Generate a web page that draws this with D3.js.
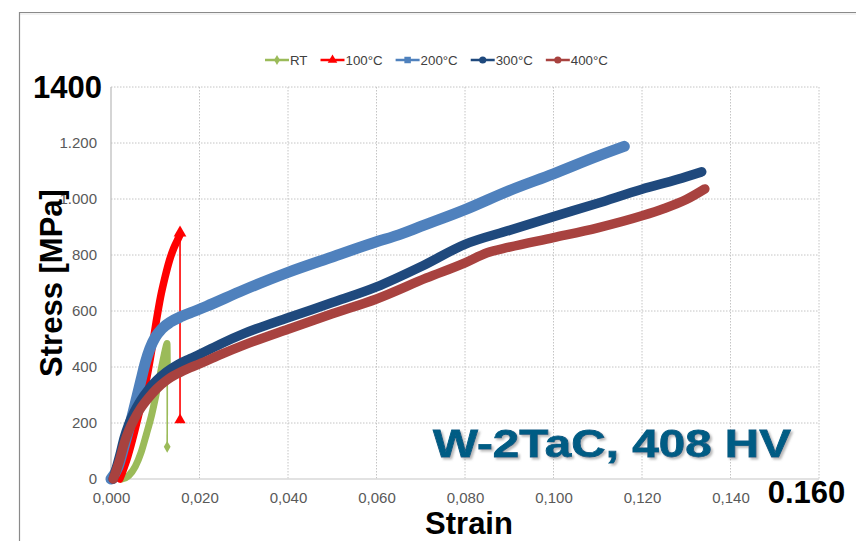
<!DOCTYPE html>
<html>
<head>
<meta charset="utf-8">
<script src="https://cdn.jsdelivr.net/npm/d3@7"></script>
<style>
  html, body { margin: 0; padding: 0; background: #fff; }
  svg { display: block; font-family: "Liberation Sans", Arial, Helvetica, sans-serif; }
</style>
</head>
<body>
<svg id="chart" width="856" height="541"></svg>
<script>
// Tensile curves of W-2TaC at different test temperatures: [strain, stress in MPa]
const seriesNames = ["RT", "100°C", "200°C", "300°C", "400°C"];
const seriesColors = ["#9BBB59", "#FF0000", "#4F81BD", "#1F497D", "#A8423F"];
const seriesMarkers = ["diamond", "triangle", "square", "circle", "circle"];

const curveRT = [
  [0.0025, 0], [0.0040, 12], [0.0055, 45], [0.0068, 95], [0.0080, 160], [0.0092, 230],
  [0.0103, 310], [0.0112, 380], [0.0119, 435], [0.0124, 470], [0.01265, 484],
  [0.0127, 440], [0.01272, 385]
];
const curve100 = [
  [0.0020, 0], [0.0038, 80], [0.0055, 180], [0.0070, 280], [0.0082, 370], [0.0092, 460],
  [0.0102, 560], [0.0112, 650], [0.0122, 720], [0.0132, 780], [0.0142, 825],
  [0.0150, 852], [0.0156, 872]
];
const curve200 = [
  [0.0000, 0], [0.0015, 40], [0.0030, 120], [0.0043, 195], [0.0058, 290], [0.0068, 355],
  [0.0078, 418], [0.0088, 466], [0.0100, 506], [0.0115, 537], [0.0135, 561],
  [0.0160, 581], [0.0190, 600], [0.0216, 617], [0.0300, 675], [0.0400, 738],
  [0.0500, 793], [0.0600, 847], [0.0650, 872], [0.0700, 902], [0.0800, 962],
  [0.0900, 1030], [0.1000, 1090], [0.1100, 1153], [0.1160, 1188]
];
const curve300 = [
  [0.0005, 0], [0.0020, 85], [0.0030, 148], [0.0040, 195], [0.0052, 238], [0.0066, 278],
  [0.0085, 320], [0.0103, 352], [0.0125, 382], [0.0150, 408], [0.0179, 430],
  [0.0200, 445], [0.0250, 484], [0.0300, 519], [0.0400, 576], [0.0500, 630],
  [0.0600, 686], [0.0700, 758], [0.0800, 838], [0.0900, 888], [0.1000, 937],
  [0.1100, 985], [0.1200, 1035], [0.1280, 1070], [0.1335, 1097]
];
const curve400 = [
  [0.0005, 0], [0.0020, 70], [0.0030, 128], [0.0040, 172], [0.0052, 212], [0.0066, 250],
  [0.0085, 290], [0.0103, 322], [0.0125, 352], [0.0150, 376], [0.0179, 398],
  [0.0200, 411], [0.0250, 446], [0.0300, 478], [0.0400, 535], [0.0500, 590],
  [0.0600, 643], [0.0713, 718], [0.0800, 772], [0.0850, 808], [0.0900, 828],
  [0.1000, 862], [0.1100, 897], [0.1200, 940], [0.1250, 966], [0.1300, 998], [0.1342, 1036]
];
const curves = [curveRT, curve100, curve200, curve300, curve400];

// Final unloading points after fracture (sparse, thin connector)
const fractureRT = [0.0127, 115];
const fracture100 = [0.0156, 211];

const xTicks = [0, 0.02, 0.04, 0.06, 0.08, 0.10, 0.12, 0.14, 0.16];
const yTicks = [0, 200, 400, 600, 800, 1000, 1200, 1400];
const xTickLabels = ["0,000", "0,020", "0,040", "0,060", "0,080", "0,100", "0,120", "0,140", "0.160"];
const yTickLabels = ["0", "200", "400", "600", "800", "1.000", "1.200", "1400"];

const svg = d3.select("#chart");
const plot = { left: 111, right: 819, top: 87, bottom: 479 };

const x = d3.scaleLinear().domain([0, 0.16]).range([plot.left, plot.right]);
const y = d3.scaleLinear().domain([0, 1400]).range([plot.bottom, plot.top]);

// outer frame (top and left edge)
svg.append("line").attr("x1", 20).attr("x2", 856).attr("y1", 12.5).attr("y2", 12.5)
  .attr("stroke", "#8a8a8a").attr("stroke-width", 1.2);
svg.append("line").attr("x1", 20).attr("x2", 856).attr("y1", 14).attr("y2", 14)
  .attr("stroke", "#e6e6e6").attr("stroke-width", 1.2);
svg.append("line").attr("x1", 19.5).attr("x2", 19.5).attr("y1", 12).attr("y2", 541)
  .attr("stroke", "#8a8a8a").attr("stroke-width", 1.2);

// gridlines
const grid = svg.append("g");
grid.selectAll(".gx").data(xTicks.slice(1)).join("line")
  .attr("x1", d => x(d)).attr("x2", d => x(d))
  .attr("y1", plot.top).attr("y2", plot.bottom)
  .attr("stroke", "#c4c4c4").attr("stroke-width", 1).attr("stroke-dasharray", "1.5,1.5");
grid.selectAll(".gy").data(yTicks.slice(1)).join("line")
  .attr("x1", plot.left).attr("x2", plot.right)
  .attr("y1", d => y(d)).attr("y2", d => y(d))
  .attr("stroke", "#c4c4c4").attr("stroke-width", 1).attr("stroke-dasharray", "1.5,1.5");

// axis lines
svg.append("line").attr("x1", plot.left).attr("x2", plot.left)
  .attr("y1", plot.top).attr("y2", plot.bottom).attr("stroke", "#bfbfbf").attr("stroke-width", 1.3);
svg.append("line").attr("x1", plot.left).attr("x2", plot.right)
  .attr("y1", plot.bottom).attr("y2", plot.bottom).attr("stroke", "#d9d9d9").attr("stroke-width", 1.3);

// axes with tick labels
const yAxis = d3.axisLeft(y).tickValues(yTicks).tickSize(0).tickPadding(14)
  .tickFormat((d, i) => yTickLabels[i]);
const gy = svg.append("g").attr("transform", `translate(${plot.left},0)`).call(yAxis);
gy.select(".domain").remove();
gy.selectAll("text").attr("font-family", null).attr("font-size", 15).attr("fill", "#595959");
gy.selectAll(".tick").filter(d => d === 1400).select("text")
  .attr("font-size", 31).attr("font-weight", "bold").attr("fill", "#000").attr("dx", 5)
  .attr("dy", "0.34em");

const xAxis = d3.axisBottom(x).tickValues(xTicks).tickSize(0).tickPadding(13)
  .tickFormat((d, i) => xTickLabels[i]);
const gx = svg.append("g").attr("transform", `translate(0,${plot.bottom})`).call(xAxis);
gx.select(".domain").remove();
gx.selectAll("text").attr("font-family", null).attr("font-size", 15).attr("fill", "#595959");
gx.selectAll(".tick").filter(d => d === 0.16).select("text")
  .attr("font-size", 31).attr("font-weight", "bold").attr("fill", "#000")
  .attr("dx", -13).attr("dy", "0.37em");

// axis titles
svg.append("text").attr("x", 469).attr("y", 534).attr("text-anchor", "middle")
  .attr("font-size", 31).attr("font-weight", "bold").attr("fill", "#000").text("Strain");
svg.append("text").attr("transform", "translate(62,283) rotate(-90)").attr("text-anchor", "middle")
  .attr("font-size", 31).attr("font-weight", "bold").attr("fill", "#000").text("Stress [MPa]");

// curves, drawn in series order so later temperatures sit on top
const line = d3.line().x(d => x(d[0])).y(d => y(d[1])).curve(d3.curveMonotoneX);
const widths = [7, 7.5, 11, 9.5, 9.5];
const curveLayer = svg.append("g");

function marker(g, type, cx, cy, size, color) {
  const sym = { diamond: d3.symbolDiamond, triangle: d3.symbolTriangle, square: d3.symbolSquare, circle: d3.symbolCircle }[type];
  g.append("path").attr("d", d3.symbol(sym, size)())
    .attr("transform", `translate(${cx},${cy})`).attr("fill", color);
}

const drops = { 0: fractureRT, 1: fracture100 };
curves.forEach((c, i) => {
  curveLayer.append("path").attr("d", line(c)).attr("fill", "none")
    .attr("stroke", seriesColors[i]).attr("stroke-width", widths[i])
    .attr("stroke-linecap", "round").attr("stroke-linejoin", "round");
  if (drops[i]) {
    const a = c[c.length - 1], b = drops[i];
    curveLayer.append("line").attr("x1", x(a[0])).attr("y1", y(a[1])).attr("x2", x(b[0])).attr("y2", y(b[1]))
      .attr("stroke", seriesColors[i]).attr("stroke-width", 1.6);
    marker(curveLayer, seriesMarkers[i], x(b[0]), y(b[1]), i === 0 ? 40 : 55, seriesColors[i]);
    if (i === 1) marker(curveLayer, "triangle", x(a[0]), y(a[1]) - 2, 70, seriesColors[i]);
  }
});

// legend
const legend = svg.append("g");
let lx = 265;
seriesNames.forEach((name, i) => {
  const ly = 60;
  legend.append("line").attr("x1", lx).attr("x2", lx + 24).attr("y1", ly).attr("y2", ly)
    .attr("stroke", seriesColors[i]).attr("stroke-width", 2.5);
  const msize = { diamond: 30, triangle: 40, square: 42, circle: 40 }[seriesMarkers[i]];
  marker(legend, seriesMarkers[i], lx + 12, ly, msize, seriesColors[i]);
  const t = legend.append("text").attr("x", lx + 25).attr("y", ly + 4.6)
    .attr("font-size", 13.3).attr("fill", "#404040").text(name);
  lx = lx + 25 + t.node().getComputedTextLength() + 13;
});

// material label
const defs = svg.append("defs");
const f = defs.append("filter").attr("id", "shadow").attr("x", "-5%").attr("y", "-20%")
  .attr("width", "115%").attr("height", "150%");
f.append("feDropShadow").attr("dx", 2).attr("dy", 2).attr("stdDeviation", 1.2)
  .attr("flood-color", "#7f7f7f").attr("flood-opacity", 0.55);
svg.append("text").attr("x", 433).attr("y", 457).attr("font-size", 39).attr("font-weight", "bold")
  .attr("fill", "#065C84").attr("stroke", "#065C84").attr("stroke-width", 0.8)
  .attr("textLength", 358).attr("lengthAdjust", "spacingAndGlyphs")
  .attr("filter", "url(#shadow)").text("W-2TaC, 408 HV");
</script>
</body>
</html>
